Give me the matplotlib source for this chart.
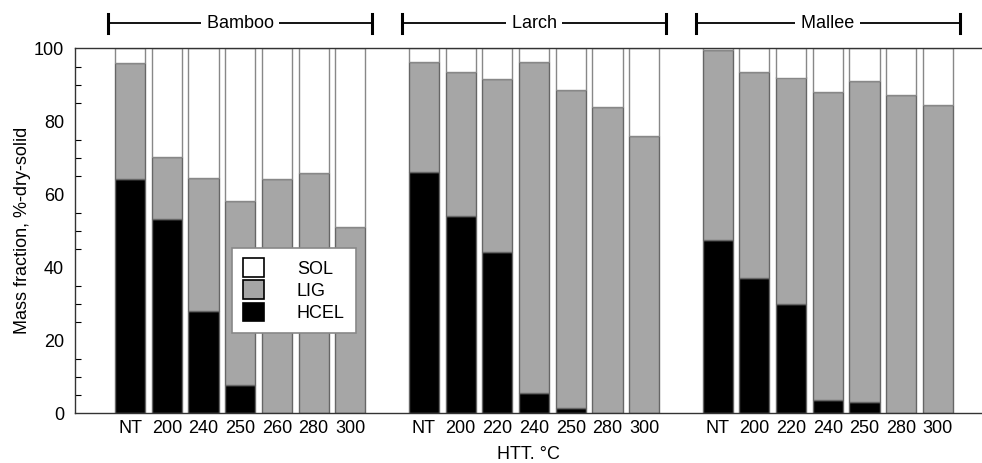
import matplotlib
matplotlib.use("Agg")
import matplotlib.pyplot as plt
from matplotlib.patches import Patch
import numpy as np

plt.rcParams['font.family'] = ['Liberation Sans', 'DejaVu Sans']

groups = ["Bamboo", "Larch", "Mallee"]
bamboo_labels = ["NT", "200", "240", "250", "260", "280", "300"]
larch_labels = ["NT", "200", "220", "240", "250", "280", "300"]
mallee_labels = ["NT", "200", "220", "240", "250", "280", "300"]

# HCEL fraction and total solid residue (HCEL+LIG); SOL fills to 100
bamboo_hcel = [64.1, 53.3, 28.1, 7.7, 0, 0, 0]
bamboo_total = [96.0, 70.1, 64.4, 58.2, 64.1, 65.8, 51.0]
larch_hcel = [66.2, 54.0, 44.1, 5.6, 1.5, 0, 0]
larch_total = [96.3, 93.5, 91.7, 96.3, 88.5, 83.8, 76.0]
mallee_hcel = [47.4, 37.0, 30.0, 3.6, 3.2, 0, 0]
mallee_total = [99.4, 93.6, 92.0, 87.9, 91.0, 87.1, 84.4]

labels = bamboo_labels + larch_labels + mallee_labels
hcel = np.array(bamboo_hcel + larch_hcel + mallee_hcel)
total = np.array(bamboo_total + larch_total + mallee_total)
lig = total - hcel
sol = 100 - total

n = len(bamboo_labels)
x = np.concatenate([np.arange(n) + g * (n + 1) for g in range(3)])

fs = 13
fig = plt.figure(figsize=(9.82, 4.63), dpi=100)
ax = fig.add_axes([75/982, 1 - 413.3/463, (982 - 75)/982, 365/463])

w = 0.82
edge = "#666666"
ax.bar(x, hcel, w, color="black", edgecolor=edge, linewidth=1.0)
ax.bar(x, lig, w, bottom=hcel, color="#a6a6a6", edgecolor=edge, linewidth=1.0)
ax.bar(x, sol, w, bottom=total, color="white", edgecolor="#888888", linewidth=1.0)

ax.set_xlim(-1.5, 23.2)
ax.set_ylim(0, 100)
ax.set_xticks(x)
ax.set_xticklabels(labels, fontsize=fs)
ax.tick_params(axis='x', length=0, pad=5)
ax.set_yticks(np.arange(0, 101, 20))
ax.set_yticks(np.arange(0, 101, 5), minor=True)
ax.tick_params(axis='y', which='both', direction='in', length=4, labelsize=fs, width=0.8)
ax.tick_params(axis='y', which='major', length=0, pad=8)
ax.spines['right'].set_visible(False)
for s in ['left', 'bottom', 'top']:
    ax.spines[s].set_linewidth(1.0)
    ax.spines[s].set_color("#333333")

ax.set_ylabel("Mass fraction, %-dry-solid", fontsize=fs, labelpad=2)
ax.set_xlabel("HTT. °C", fontsize=fs, labelpad=6)

# group brackets above axes
for g, name in enumerate(groups):
    x0 = g * (n + 1) - 0.6
    x1 = g * (n + 1) + n - 1 + 0.6
    xc = (x0 + x1) / 2
    yb = 106.9
    ax.plot([x0, x1], [yb, yb], color="black", lw=1.3, clip_on=False)
    ax.plot([x0, x0], [yb - 2.6, yb + 2.6], color="black", lw=2.2, clip_on=False)
    ax.plot([x1, x1], [yb - 2.6, yb + 2.6], color="black", lw=2.2, clip_on=False)
    ax.text(xc, yb, " " + name + " ", ha='center', va='center', fontsize=fs,
            bbox=dict(facecolor='white', edgecolor='none', pad=0.5), clip_on=False)

handles = [Patch(facecolor="white", edgecolor="black", linewidth=1.2, label="SOL"),
           Patch(facecolor="#a6a6a6", edgecolor="black", linewidth=1.2, label="LIG"),
           Patch(facecolor="black", edgecolor="black", linewidth=1.2, label="HCEL")]
leg = ax.legend(handles=handles, loc='upper left', bbox_to_anchor=(0.173, 0.454),
                fontsize=fs, frameon=True, fancybox=False, handlelength=1.2,
                handleheight=1.2, handletextpad=1.8, borderpad=0.6, labelspacing=0.15,
                borderaxespad=0, framealpha=1)
leg.get_frame().set_edgecolor("#888888")
leg.get_frame().set_linewidth(1.2)

fig.savefig("out.png", dpi=100)
